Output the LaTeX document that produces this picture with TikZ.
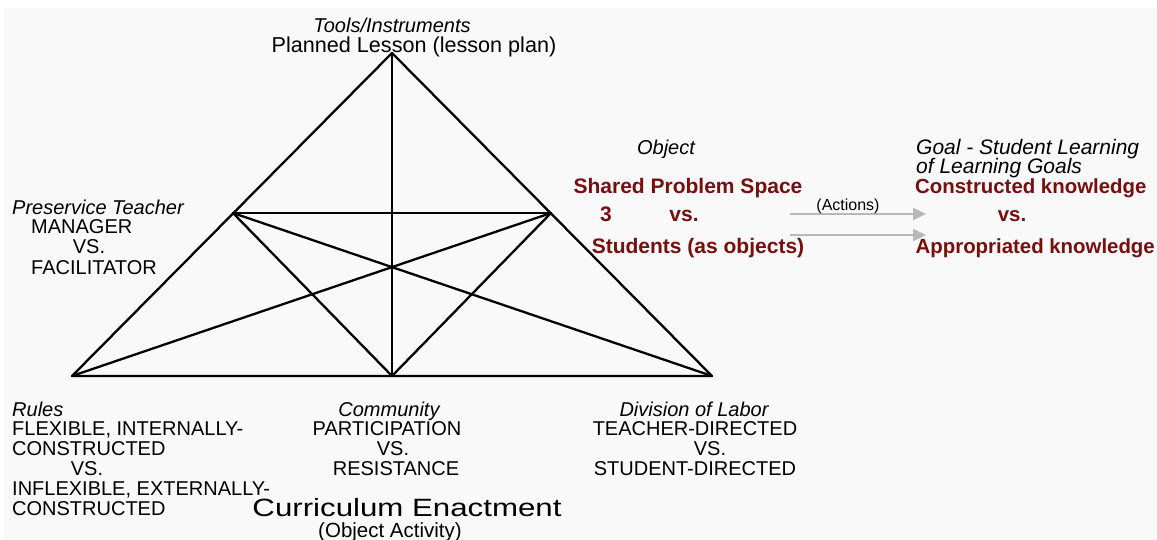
\documentclass[tikz,border=0pt]{standalone}
\usepackage{fontspec}
\setmainfont{Liberation Sans}
\usetikzlibrary{arrows.meta}
\definecolor{bggray}{HTML}{F9F9F9}
\definecolor{dred}{RGB}{120,14,14}
\definecolor{agray}{HTML}{B8B8B8}
\begin{document}
\begin{tikzpicture}[x=1pt,y=-1pt,
  txt/.style={inner sep=0pt, font=\fontsize{20}{20}\selectfont},
  itxt/.style={inner sep=0pt, font=\fontsize{20}{20}\selectfont\itshape},
  rtxt/.style={inner sep=0pt, text=dred, font=\fontsize{21}{21}\selectfont\bfseries},
  gtxt/.style={inner sep=0pt, text=dred, font=\fontsize{20.4}{21}\selectfont\bfseries},
  edge/.style={line width=2.3pt, line cap=round, line join=round},
  act/.style={agray, line width=2.4pt, -{Triangle[length=13pt,width=12pt]}}]
\useasboundingbox (0,0) rectangle (1157,540);
\fill[white] (0,0) rectangle (1157,540);
\fill[bggray] (4,8) rectangle (1157,540);
% vertices
\coordinate (T) at (392,53);
\coordinate (BL) at (72,376);
\coordinate (BR) at (712,376);
\coordinate (BM) at (392,376);
\coordinate (ML) at (233,213);
\coordinate (MR) at (551,213);
% lines
\draw[edge] (T) -- (BL) -- (BR) -- cycle;
\draw[edge] (T) -- (BM);
\draw[edge] (ML) -- (MR);
\draw[edge] (ML) -- (BM) -- (MR);
\draw[edge] (ML) -- (BR);
\draw[edge] (MR) -- (BL);
% top
\node[itxt, anchor=base] (tools) at (392,33) {Tools/Instruments};
\node[inner sep=0pt, anchor=base, font=\fontsize{21.6}{22}\selectfont] (plan) at (414,53) {Planned Lesson (lesson plan)};
% left
\node[itxt, anchor=base west] (pt) at (12,215) {Preservice Teacher};
\node[txt, anchor=base west] (mgr) at (31,234) {MANAGER};
\node[txt, anchor=base] (ptvs) at (89,254) {VS.};
\node[txt, anchor=base west] (fac) at (31,274) {FACILITATOR};
% object
\node[itxt, anchor=base] (obj) at (666,155) {Object};
\node[rtxt, anchor=base] (sps) at (688,194) {Shared Problem Space};
\node[rtxt, anchor=base] (three) at (606,222) {3};
\node[rtxt, anchor=base] (objvs) at (684,222) {vs.};
\node[rtxt, anchor=base] (stu) at (698,254) {Students (as objects)};
% actions
\coordinate (a1s) at (790,214);
\coordinate (a1e) at (926,214);
\coordinate (a2s) at (790,235);
\coordinate (a2e) at (926,235);
\draw[act] (a1s) -- (a1e);
\draw[act] (a2s) -- (a2e);
\node[inner sep=0pt, anchor=base, font=\fontsize{16}{16}\selectfont] (actions) at (848,211) {(Actions)};
% goal
\node[inner sep=0pt, anchor=base west, font=\fontsize{21}{21}\selectfont\itshape] (goal) at (916,155) {Goal - Student Learning};
\node[inner sep=0pt, anchor=base west, font=\fontsize{21}{21}\selectfont\itshape] (goal2) at (916,174) {of Learning Goals};
\node[gtxt, anchor=base west] (ck) at (915,194) {Constructed knowledge};
\node[gtxt, anchor=base] (goalvs) at (1012,222) {vs.};
\node[gtxt, anchor=base east] (ak) at (1155,254) {Appropriated knowledge};
% rules
\node[itxt, anchor=base west] (rules) at (12,416) {Rules};
\node[txt, anchor=base west] (r1) at (12,435) {FLEXIBLE, INTERNALLY-};
\node[txt, anchor=base west] (r2) at (12,455) {CONSTRUCTED};
\node[txt, anchor=base] (rvs) at (87,475) {VS.};
\node[txt, anchor=base west] (r3) at (12,495) {INFLEXIBLE, EXTERNALLY-};
\node[txt, anchor=base west] (r4) at (12,515) {CONSTRUCTED};
% community
\node[itxt, anchor=base] (comm) at (389,416) {Community};
\node[txt, anchor=base] (c1) at (387,435) {PARTICIPATION};
\node[txt, anchor=base] (cvs) at (393,455) {VS.};
\node[txt, anchor=base] (c2) at (396,475) {RESISTANCE};
% division of labor
\node[itxt, anchor=base] (dol) at (694,416) {Division of Labor};
\node[txt, anchor=base] (d1) at (695,435) {TEACHER-DIRECTED};
\node[txt, anchor=base] (dvs) at (710,455) {VS.};
\node[txt, anchor=base] (d2) at (695,475) {STUDENT-DIRECTED};
% title
\node[inner sep=0pt, anchor=base, font=\fontsize{25}{25}\selectfont, xscale=1.25, transform shape] (title) at (407,516) {Curriculum Enactment};
\node[inner sep=0pt, anchor=base, font=\fontsize{20.5}{21}\selectfont] (sub) at (390,537) {(Object Activity)};
\end{tikzpicture}
\end{document}
